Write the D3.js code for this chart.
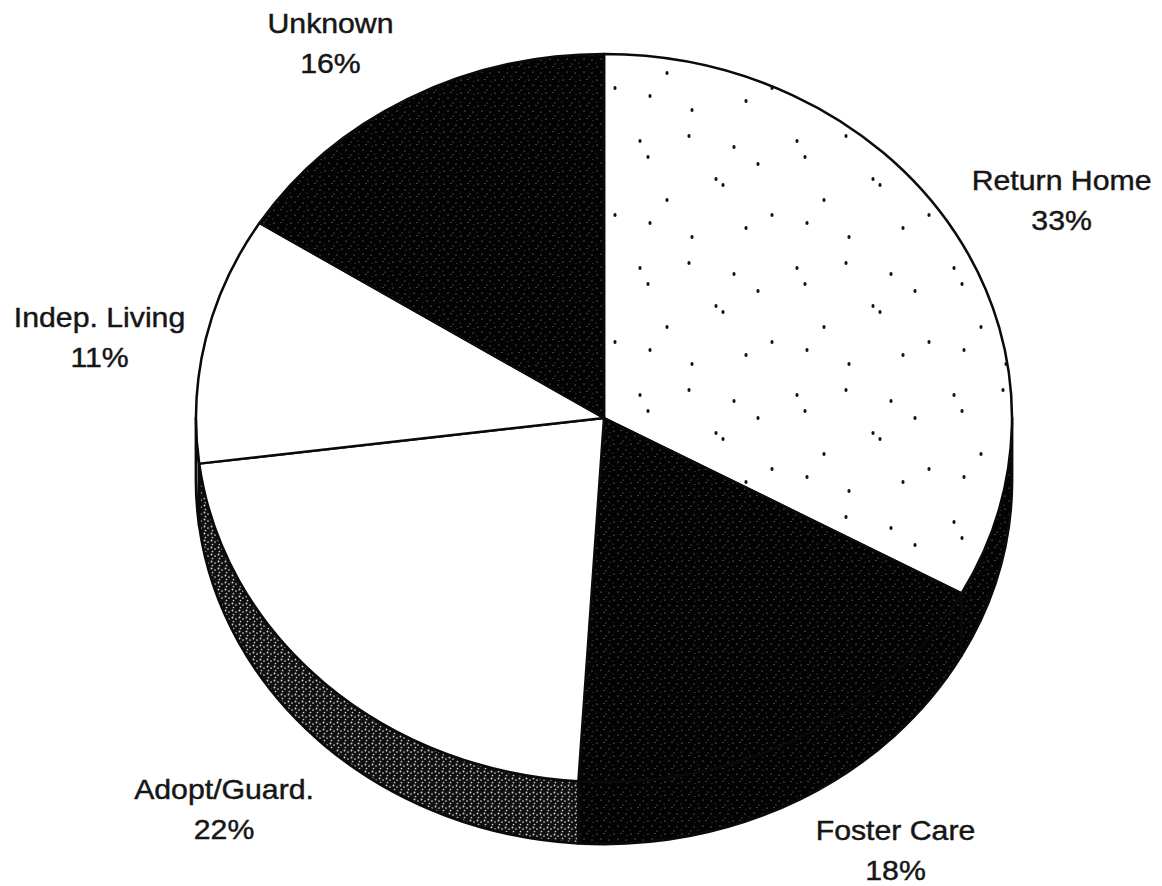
<!DOCTYPE html>
<html>
<head>
<meta charset="utf-8">
<script src="https://cdn.jsdelivr.net/npm/d3@7"></script>
<style>
  html, body { margin: 0; padding: 0; background: #ffffff; }
  svg { display: block; }
  text { font-family: "Liberation Sans", Arial, sans-serif; fill: #161616; stroke: #161616; stroke-width: 0.45px; }
</style>
</head>
<body>
<svg id="chart" width="1162" height="886"></svg>
<script>
// ---- data ----
const categories = ["Return Home", "Foster Care", "Adopt/Guard.", "Indep. Living", "Unknown"];
const values = [33, 18, 22, 11, 16];
const valueLabels = ["33%", "18%", "22%", "11%", "16%"];

// ---- style / layout ----
const topFill  = ["url(#dotsWhite)", "url(#darkSpeck)", "#ffffff", "#ffffff", "url(#darkSpeck)"];
const sideFill = ["url(#darkSpeck)", "url(#darkSpeck)", "url(#graySpeck)", "#ffffff", "url(#darkSpeck)"];
const labelNudge = [[10, -9], [41, -10], [-24, 13], [3, 3], [-23, -8]];

const W = 1162, H = 886;
const cx = 604, cy = 418, rx = 408, ry = 364, depth = 62;

const svg = d3.select("#chart");
svg.append("rect").attr("width", W).attr("height", H).attr("fill", "#ffffff");

// ---- textures ----
const defs = svg.append("defs");
const pd = defs.append("pattern").attr("id", "darkSpeck").attr("patternUnits", "userSpaceOnUse")
  .attr("width", 17).attr("height", 13);
pd.append("rect").attr("width", 17).attr("height", 13).attr("fill", "#030303");
[[2, 2, 0.6], [9, 1.5, 0.5], [6, 7, 0.6], [14, 8, 0.55], [1, 11, 0.45], [11, 12, 0.5], [15, 3.5, 0.4]].forEach(d =>
  pd.append("circle").attr("cx", d[0]).attr("cy", d[1]).attr("r", d[2]).attr("fill", "#a8a8a8"));

const pg = defs.append("pattern").attr("id", "graySpeck").attr("patternUnits", "userSpaceOnUse")
  .attr("width", 7).attr("height", 7);
pg.append("rect").attr("width", 7).attr("height", 7).attr("fill", "#101010");
[[1.5, 1.5, 0.95], [5, 3, 0.85], [2.5, 5.5, 0.85]].forEach(d =>
  pg.append("circle").attr("cx", d[0]).attr("cy", d[1]).attr("r", d[2]).attr("fill", "#d0d0d0"));

const pw = defs.append("pattern").attr("id", "dotsWhite").attr("patternUnits", "userSpaceOnUse")
  .attr("width", 157).attr("height", 127);
pw.append("rect").attr("width", 157).attr("height", 127).attr("fill", "#ffffff");
[[12, 14], [20, 30], [61, 9], [88, 52], [95, 58], [39, 73], [130, 37], [118, 101], [64, 110], [144, 88], [22, 96], [106, 20]].forEach(d =>
  pw.append("ellipse").attr("cx", d[0]).attr("cy", d[1]).attr("rx", 1.6).attr("ry", 2.1).attr("fill", "#111"));

// ---- geometry ----
const pie = d3.pie().sort(null).value(d => d.value).startAngle(0).endAngle(2 * Math.PI);
const data = categories.map((c, i) => ({ name: c, value: values[i], label: valueLabels[i], i }));
const arcs = pie(data);

const px = a => cx + rx * Math.sin(a);
const py = a => cy - ry * Math.cos(a);

function topPath(a0, a1) {
  const large = (a1 - a0) > Math.PI ? 1 : 0;
  return `M${cx},${cy}L${px(a0)},${py(a0)}A${rx},${ry} 0 ${large} 1 ${px(a1)},${py(a1)}Z`;
}
function sidePath(a0, a1) {
  const s = Math.max(a0, Math.PI / 2), e = Math.min(a1, 3 * Math.PI / 2);
  if (e <= s) return null;
  const large = (e - s) > Math.PI ? 1 : 0;
  return `M${px(s)},${py(s)}A${rx},${ry} 0 ${large} 1 ${px(e)},${py(e)}` +
         `L${px(e)},${py(e) + depth}A${rx},${ry} 0 ${large} 0 ${px(s)},${py(s) + depth}Z`;
}

// sides
const g = svg.append("g");
arcs.forEach(a => {
  const p = sidePath(a.startAngle, a.endAngle);
  if (p) g.append("path").attr("d", p).attr("fill", sideFill[a.data.i])
    .attr("stroke", "#0a0a0a").attr("stroke-width", 2.8).attr("stroke-linejoin", "round");
});
// tops
arcs.forEach(a => {
  g.append("path").attr("d", topPath(a.startAngle, a.endAngle)).attr("fill", topFill[a.data.i])
    .attr("stroke", "#0a0a0a").attr("stroke-width", 2.5).attr("stroke-linejoin", "round");
});

// ---- labels ----
const lg = svg.append("g");
arcs.forEach(a => {
  const m = (a.startAngle + a.endAngle) / 2;
  const front = Math.cos(m) < 0 ? depth - 7 : 0;
  const x = cx + 520 * Math.sin(m) + labelNudge[a.data.i][0];
  const y = cy - 430 * Math.cos(m) + front + labelNudge[a.data.i][1];
  const t = lg.append("g").attr("transform", `translate(${x},${y}) scale(1.08,1)`);
  t.append("text").attr("text-anchor", "middle").attr("font-size", 28).text(a.data.name);
  t.append("text").attr("text-anchor", "middle").attr("font-size", 28).attr("y", 40).text(a.data.label);
});
</script>
</body>
</html>
